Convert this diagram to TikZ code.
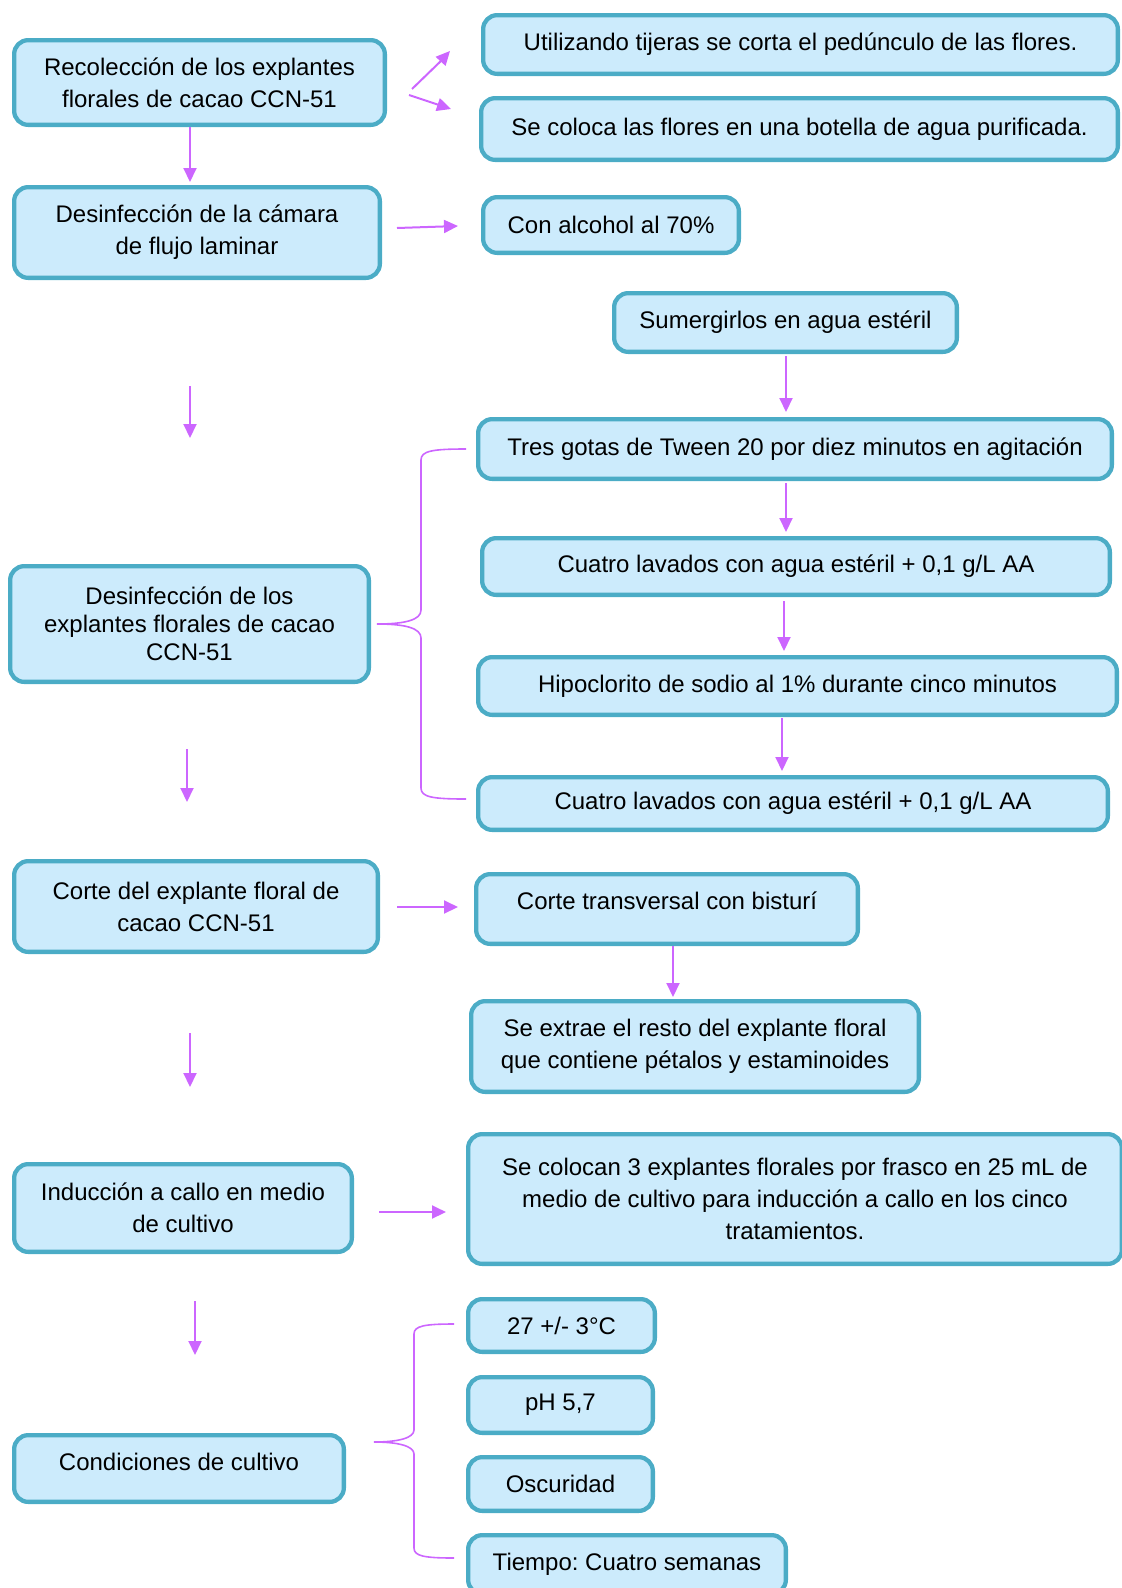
\documentclass[tikz,border=0pt]{standalone}
\usepackage{fontspec}
\setmainfont{Liberation Sans}
\usetikzlibrary{arrows.meta}
\definecolor{boxfill}{HTML}{CCEBFC}
\definecolor{boxline}{HTML}{4BACC6}
\definecolor{arrcol}{HTML}{CC66FF}
\frenchspacing
\tikzset{
  flowbox/.style={draw=boxline, fill=boxfill, line width=4.3pt, rounded corners=14pt,
    align=center, inner sep=0pt, font=\fontsize{24}{32}\selectfont, text=black},
  arr/.style={draw=arrcol, line width=2pt, -{Triangle[length=14pt,width=13pt]}},
  bracepath/.style={draw=arrcol, line width=1.6pt}
}
\newcommand\flbox[7]{\node[flowbox, #1, minimum width={#5-#3-4.3}, minimum height={#6-#4-4.3}] (#2) at ({(#3+#5)/2},{(#4+#6)/2}) {#7};}
\begin{document}
\begin{tikzpicture}[x=1pt,y=-1pt]
\useasboundingbox (0,0) rectangle (1122,1588);
% left column
\flbox{}{A}{12}{38}{387}{127}{Recolección de los explantes\\florales de cacao CCN-51}
\flbox{}{B}{12}{185}{382}{280}{Desinfección de la cámara\\de flujo laminar}
\flbox{font=\fontsize{24}{28}\selectfont}{C}{8}{564}{371}{684}{Desinfección de los\\explantes florales de cacao\\CCN-51}
\flbox{}{D}{12}{859}{380}{954}{Corte del explante floral de\\cacao CCN-51}
\flbox{}{E}{12}{1162}{354}{1254}{Inducción a callo en medio\\de cultivo}
\flbox{text depth=14pt}{F}{12}{1433}{346}{1504}{Condiciones de cultivo}
% right column
\flbox{}{R1}{481}{13}{1120}{76}{Utilizando tijeras se corta el pedúnculo de las flores.}
\flbox{}{R2}{479}{96}{1120}{162}{Se coloca las flores en una botella de agua purificada.}
\flbox{}{R3}{481}{195}{741}{255}{Con alcohol al 70\%}
\flbox{}{R4}{612}{291}{959}{354}{Sumergirlos en agua estéril}
\flbox{}{R5}{476}{417}{1114}{481}{Tres gotas de Tween 20 por diez minutos en agitación}
\flbox{}{R6}{480}{536}{1112}{597}{Cuatro lavados con agua estéril + 0,1 g/L AA}
\flbox{}{R7}{476}{655}{1119}{717}{Hipoclorito de sodio al 1\% durante cinco minutos}
\flbox{}{R8}{476}{775}{1110}{832}{Cuatro lavados con agua estéril + 0,1 g/L AA}
\flbox{text depth=16pt}{R9}{474}{872}{860}{946}{Corte transversal con bisturí}
\flbox{}{R10}{469}{999}{921}{1094}{Se extrae el resto del explante floral\\que contiene pétalos y estaminoides}
\flbox{}{R11}{466}{1132}{1124}{1266}{Se colocan 3 explantes florales por frasco en 25 mL de\\medio de cultivo para inducción a callo en los cinco\\tratamientos.}
\flbox{}{R12}{466}{1297}{657}{1354}{27 +/- 3°C}
\flbox{}{R13}{466}{1375}{655}{1435}{pH 5,7}
\flbox{}{R14}{466}{1455}{655}{1513}{Oscuridad}
\flbox{}{R15}{466}{1533}{788}{1596}{Tiempo: Cuatro semanas}
% arrows
\draw[arr, shorten >=3pt] ([xshift=-9.5pt]A.south) -- ([xshift=-9.5pt]A.south |- B.north);
\draw[arr] ([shift={(25,6.5)}]A.east) -- ([shift={(-31,6.5)}]R1.west);
\draw[arr] ([shift={(22,12.5)}]A.east) -- ([shift={(-28,-20)}]R2.west);
\draw[arr] ([shift={(15,-4.5)}]B.east) -- ([shift={(-23,1)}]R3.west);
\draw[arr, shorten <=2pt, shorten >=5pt] ([xshift=0.5pt]R4.south) -- ([xshift=0.5pt]R4.south |- R5.north);
\draw[arr, shorten <=2pt, shorten >=4pt] ([xshift=-9pt]R5.south) -- ([xshift=-9pt]R5.south |- R6.north);
\draw[arr, shorten <=4pt, shorten >=4pt] ([xshift=-12pt]R6.south) -- ([xshift=-12pt]R6.south |- R7.north);
\draw[arr, shorten <=1pt, shorten >=4pt] ([xshift=-15.5pt]R7.south) -- ([xshift=-15.5pt]R7.south |- R8.north);
\draw[arr, shorten <=17pt, shorten >=16pt] ([yshift=-0.5pt]D.east) -- ([yshift=-0.5pt]D.east -| R9.west);
\draw[arr, shorten >=2pt] ([xshift=6pt]R9.south) -- ([xshift=6pt]R9.south |- R10.north);
\draw[arr, shorten <=25pt, shorten >=20pt] ([yshift=-4pt]E.east) -- ([yshift=-4pt]E.east -| R11.west);
\draw[arr, shorten <=106pt, shorten >=126pt] ([xshift=-7pt]B.south) -- ([xshift=-7pt]B.south |- C.north);
\draw[arr, shorten <=65pt, shorten >=57pt] ([xshift=-2.5pt]C.south) -- ([xshift=-2.5pt]C.south |- D.north);
\draw[arr, shorten <=79pt, shorten >=75pt] ([xshift=-6pt]D.south) -- ([xshift=-6pt]D.south |- E.north);
\draw[arr, shorten <=47pt, shorten >=78pt] ([xshift=12pt]E.south) -- ([xshift=12pt]E.south |- F.north);
% braces
\draw[bracepath] (466,449) .. controls (432,449) and (421,451) .. (421,460) -- (421,610)
  .. controls (421,620) and (405,624) .. (377,624)
  .. controls (405,624) and (421,628) .. (421,638) -- (421,788)
  .. controls (421,797) and (432,799) .. (466,799);
\draw[bracepath] (454,1324) .. controls (424,1324) and (414,1326) .. (414,1334) -- (414,1430)
  .. controls (414,1438) and (398,1442) .. (374,1442)
  .. controls (398,1442) and (414,1446) .. (414,1454) -- (414,1548)
  .. controls (414,1556) and (424,1558) .. (454,1558);
\end{tikzpicture}
\end{document}
